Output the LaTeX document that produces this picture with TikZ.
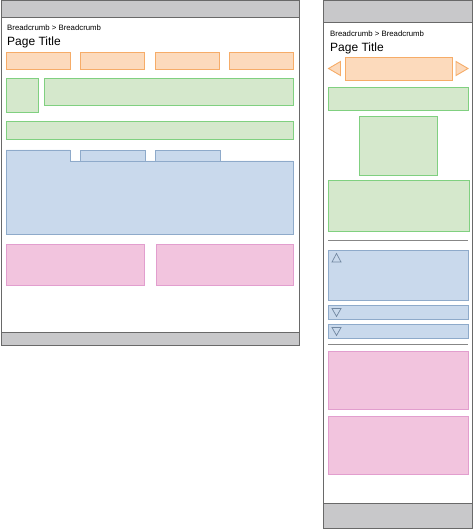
\documentclass[tikz,border=0pt]{standalone}
\usepackage{fontspec}
\setmainfont{Liberation Sans}
\usepackage{tikz}
\usetikzlibrary{positioning}
\definecolor{WfGray}{RGB}{200,200,202}
\definecolor{WfFrame}{RGB}{105,105,105}
\definecolor{WfRule}{RGB}{135,135,135}
\definecolor{WfOrangeFill}{RGB}{252,218,188}
\definecolor{WfOrangeLine}{RGB}{246,172,104}
\definecolor{WfGreenFill}{RGB}{213,232,204}
\definecolor{WfGreenLine}{RGB}{128,208,128}
\definecolor{WfBlueFill}{RGB}{201,217,236}
\definecolor{WfBlueLine}{RGB}{142,170,202}
\definecolor{WfPinkFill}{RGB}{242,196,222}
\definecolor{WfPinkLine}{RGB}{226,158,206}
\tikzset{
  frame/.style={draw=WfFrame, line width=1pt, fill=white},
  bar/.style={draw=WfFrame, line width=1pt, fill=WfGray},
  orangebox/.style={draw=WfOrangeLine, fill=WfOrangeFill, line width=0.9pt},
  greenbox/.style={draw=WfGreenLine, fill=WfGreenFill, line width=0.9pt},
  bluebox/.style={draw=WfBlueLine, fill=WfBlueFill, line width=0.9pt},
  pinkbox/.style={draw=WfPinkLine, fill=WfPinkFill, line width=0.9pt},
  sepline/.style={draw=WfRule, line width=1pt},
  icon/.style={draw=WfBlueLine!80!black, line width=0.7pt},
  crumb/.style={anchor=base west, inner sep=0pt, font=\fontsize{7.8}{9}\selectfont},
  pagetitle/.style={anchor=base west, inner sep=0pt, font=\fontsize{12}{14}\selectfont}
}
\begin{document}
\begin{tikzpicture}[x=1pt, y=-1pt]
  \useasboundingbox (0,0) rectangle (474,529);

  % desktop layout
  \draw[frame] (1,1) rectangle (299,345);
  \draw[bar] (1,1) rectangle (299,18);
  \draw[bar] (1,332) rectangle (299,345);
  \node[crumb] (dcrumb) at (7,31) {Breadcrumb > Breadcrumb};
  \node[pagetitle] (dtitle) at (7,46) {Page Title};
  \foreach \x in {6,80,155,229}
    \draw[orangebox] (\x,52) rectangle ++(64,17);
  \draw[greenbox] (6,78) rectangle (38,112);
  \draw[greenbox] (44,78) rectangle (293,105);
  \draw[greenbox] (6,121) rectangle (293,139);
  \draw[bluebox] (80,150) rectangle (145,162);
  \draw[bluebox] (155,150) rectangle (220,162);
  \draw[bluebox] (6,150) -- (70,150) -- (70,161) -- (293,161)
    -- (293,234) -- (6,234) -- cycle;
  \draw[pinkbox] (6,244) rectangle (144,285);
  \draw[pinkbox] (156,244) rectangle (293,285);

  % mobile layout
  \draw[frame] (323,1) rectangle (472,528);
  \draw[bar] (323,1) rectangle (472,23);
  \draw[bar] (323,503) rectangle (472,528);
  \node[crumb] (mcrumb) at (330,36.5) {Breadcrumb > Breadcrumb};
  \node[pagetitle] (mtitle) at (330,51.5) {Page Title};
  \draw[orangebox] (340.5,61.5) -- (328.5,68.5) -- (340.5,75.5) -- cycle;
  \draw[orangebox] (345,57) rectangle (452,80);
  \draw[orangebox] (456,61.5) -- (468,68.5) -- (456,75.5) -- cycle;
  \draw[greenbox] (328,87) rectangle (468,110);
  \draw[greenbox] (359,116) rectangle (437.5,175);
  \draw[greenbox] (328,180) rectangle (469,231);
  \draw[sepline] (328,240.5) -- (468,240.5);
  \draw[bluebox] (328,250.5) rectangle (468,300.5);
  \draw[icon] (332,262) -- (336.5,253.5) -- (341,262) -- cycle;
  \draw[bluebox] (328,305.5) rectangle (468,319.5);
  \draw[icon] (332,308.5) -- (336.5,316.5) -- (341,308.5) -- cycle;
  \draw[bluebox] (328,324.5) rectangle (468,338.5);
  \draw[icon] (332,327.5) -- (336.5,335.5) -- (341,327.5) -- cycle;
  \draw[sepline] (328,344.5) -- (468,344.5);
  \draw[pinkbox] (328,351) rectangle (468.5,409.5);
  \draw[pinkbox] (328,416) rectangle (468.5,474.5);
\end{tikzpicture}
\end{document}
